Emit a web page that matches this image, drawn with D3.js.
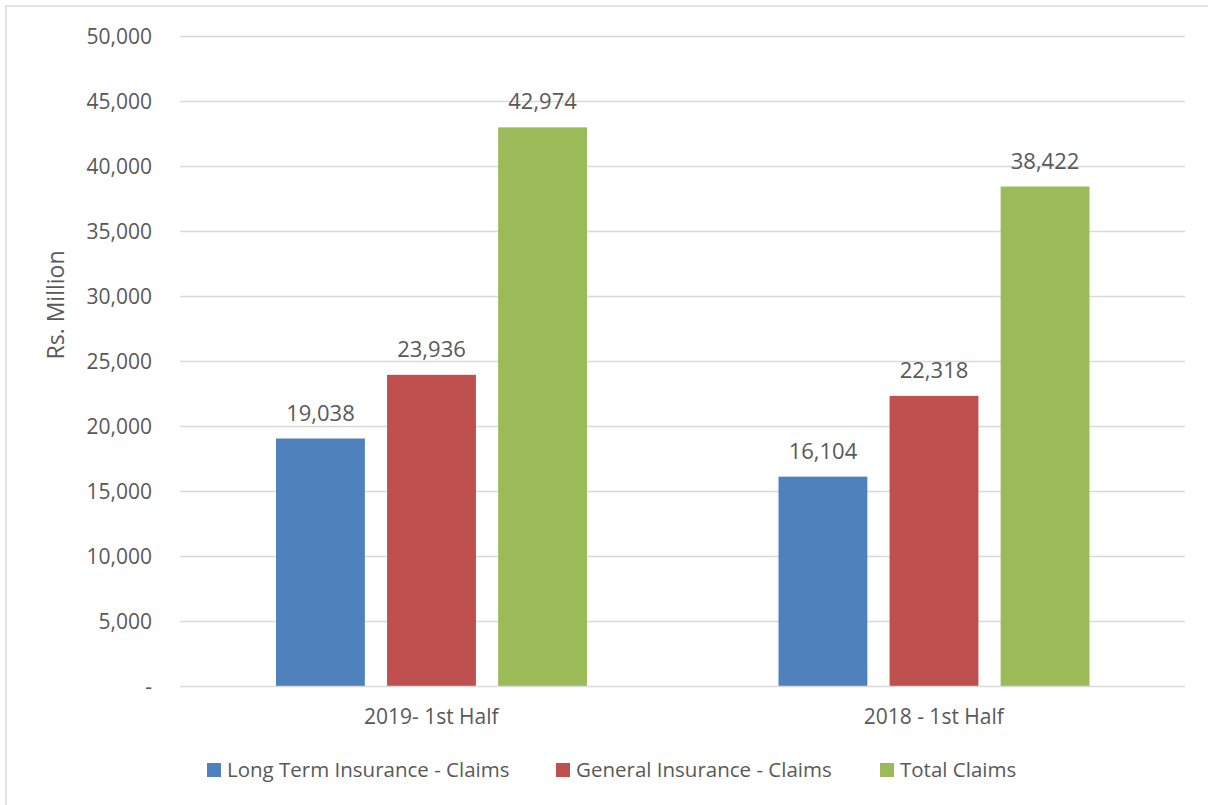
<!DOCTYPE html>
<html><head><meta charset="utf-8">
<script src="https://cdn.jsdelivr.net/npm/d3@7"></script>
<style>body{margin:0;background:#fff}svg{display:block}text{font-family:"Open Sans",sans-serif;fill:#595959}</style>
</head><body><svg id="c" width="1208" height="805"></svg>
<script>
const categories = ["2019- 1st Half", "2018 - 1st Half"];
const seriesNames = ["Long Term Insurance - Claims", "General Insurance - Claims", "Total Claims"];
const longTerm = [19038, 16104];
const general = [23936, 22318];
const total = [42974, 38422];
const yTicks = [0, 5000, 10000, 15000, 20000, 25000, 30000, 35000, 40000, 45000, 50000];
const colors = ["#4f81bd", "#c0504d", "#9bbb59"];
const series = [longTerm, general, total];

const svg = d3.select("#c");
svg.append("rect").attr("x",6).attr("y",6).attr("width",1230).attr("height",830).attr("fill","none").attr("stroke","#d9d9d9").attr("stroke-width",1.5);

const L=180,R=1185,T=36,B=686;
const x = d3.scaleBand().domain(categories).range([L,R]).paddingInner(0).paddingOuter(0);
const y = d3.scaleLinear().domain([0,50000]).range([B,T]);
const x1 = d3.scaleBand().domain(d3.range(3)).range([96, 96+311]).paddingInner(0.2).paddingOuter(0);

const g = svg.append("g");
g.selectAll("line.grid").data(yTicks.filter(d=>d>0)).join("line").attr("class","grid")
 .attr("x1",L).attr("x2",R).attr("y1",d=>y(d)+0.5).attr("y2",d=>y(d)+0.5).attr("stroke","#d9d9d9").attr("stroke-width",1.3);

const fmt = d3.format(",");
const yAxis = d3.axisLeft(y).tickValues(yTicks).tickSize(0).tickPadding(0).tickFormat(d=>d===0?"-":fmt(d));
const ya = svg.append("g").attr("transform",`translate(152,0)`).call(yAxis);
ya.select(".domain").remove();
ya.selectAll("text").attr("font-size","21px").attr("fill","#595959").attr("font-family","Open Sans").attr("dy","0.35em");

categories.forEach((c,ci)=>{
  series.forEach((s,si)=>{
    const bx = x(c)+x1(si);
    g.append("rect").attr("x",bx).attr("y",y(s[ci])).attr("width",x1.bandwidth()).attr("height",y(0)-y(s[ci])).attr("fill",colors[si]);
    g.append("text").attr("x",bx+x1.bandwidth()/2).attr("y",y(s[ci])-18).attr("text-anchor","middle").attr("font-size","22px").text(fmt(s[ci]));
  });
});

svg.append("line").attr("x1",L).attr("x2",R).attr("y1",B+0.5).attr("y2",B+0.5).attr("stroke","#d9d9d9").attr("stroke-width",1.5);

const xAxis = d3.axisBottom(x).tickSize(0).tickPadding(0);
const xa = svg.append("g").attr("transform",`translate(0,${B})`).call(xAxis);
xa.select(".domain").remove();
xa.selectAll("text").attr("font-size","21px").attr("fill","#595959").attr("font-family","Open Sans").attr("dy","0").attr("y",38);

svg.append("text").attr("transform","translate(64,305) rotate(-90)").attr("text-anchor","middle").attr("font-size","23px").text("Rs. Million");

const legX=[207,556,880];
seriesNames.forEach((n,i)=>{
  svg.append("rect").attr("x",legX[i]).attr("y",763).attr("width",14).attr("height",14).attr("fill",colors[i]);
  svg.append("text").attr("x",legX[i]+20).attr("y",777).attr("font-size","20.5px").text(n);
});
</script></body></html>
